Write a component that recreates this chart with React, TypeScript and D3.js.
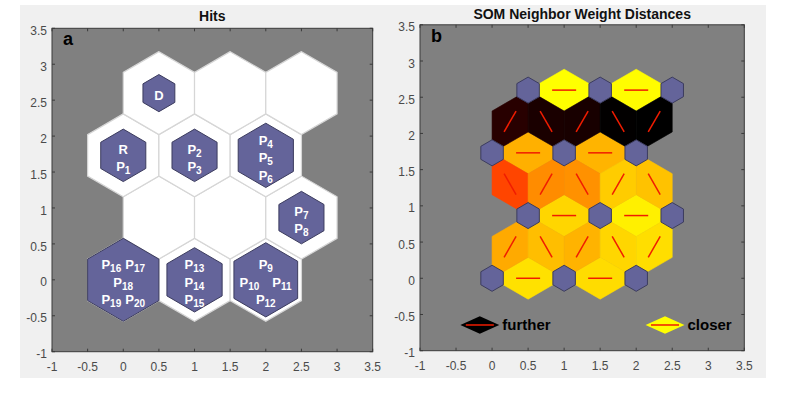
import React from "react";
import * as d3 from "d3";

const W = 808;
const H = 398;
const FONT = "'Liberation Sans', Arial, sans-serif";

const TICKS = [-1, -0.5, 0, 0.5, 1, 1.5, 2, 2.5, 3, 3.5];
const TICK_LABELS = ["-1", "-0.5", "0", "0.5", "1", "1.5", "2", "2.5", "3", "3.5"];

// SOM grid: 3 columns x 4 rows, hexagonal topology, neuron index = row*3+col
const GRID_COLS = 3;
const GRID_ROWS = 4;

// Hits per neuron
const HITS = [5, 3, 4, 0, 0, 2, 2, 2, 3, 1, 0, 0];
const MAX_HITS = 5;
// Labels inside the hit hexagons (lines of tokens)
const HIT_LABELS: string[][][] = [
  [["P16", "P17"], ["P18"], ["P19", "P20"]],
  [["P13"], ["P14"], ["P15"]],
  [["P9"], ["P10", "P11"], ["P12"]],
  [],
  [],
  [["P7"], ["P8"]],
  [["R"], ["P1"]],
  [["P2"], ["P3"]],
  [["P4"], ["P5"], ["P6"]],
  [["D"]],
  [],
  [],
];

// Neighbour pairs and their closeness (0 = further, 1 = closer)
const EDGES: [number, number][] = [
  [0, 1], [1, 2], [3, 4], [4, 5], [6, 7], [7, 8], [9, 10], [10, 11],
  [0, 3], [1, 3], [1, 4], [2, 4], [2, 5],
  [6, 3], [7, 3], [7, 4], [8, 4], [8, 5],
  [6, 9], [7, 9], [7, 10], [8, 10], [8, 11],
];
const CLOSENESS = [
  0.941, 0.931, 0.92, 0.97, 0.845, 0.853, 1.0, 0.995,
  0.833, 0.873, 0.85, 0.92, 0.935,
  0.635, 0.775, 0.785, 0.9, 0.88,
  0.078, 0.05, 0.047, 0.004, 0.0,
];

const LEGEND = [
  { label: "further", closeness: 0 },
  { label: "closer", closeness: 1 },
];

const TITLES = ["Hits", "SOM Neighbor Weight Distances"];
const PANEL_TAGS = ["a", "b"];

const colorScale = d3
  .scaleLinear<string>()
  .domain([0, 0.5, 1])
  .range(["#000000", "#ff0000", "#ffff00"]);

const SQ3 = Math.sqrt(3);
function neuronPos(i: number): [number, number] {
  const row = Math.floor(i / GRID_COLS);
  const col = i % GRID_COLS;
  return [col + (row % 2) * 0.5, (row * SQ3) / 2];
}
const NEURONS = d3.range(GRID_COLS * GRID_ROWS);

type Scales = { x: d3.ScaleLinear<number, number>; y: d3.ScaleLinear<number, number> };

const line = d3.line<[number, number]>().curve(d3.curveLinearClosed);

function hexPath(s: Scales, cx: number, cy: number, r: number) {
  const pts: [number, number][] = d3.range(6).map((k) => {
    const a = Math.PI / 2 + (k * Math.PI) / 3;
    return [s.x(cx + r * Math.cos(a)), s.y(cy + r * Math.sin(a))];
  });
  return line(pts) as string;
}

function Axes({ s, title, titleY, tag }: { s: Scales; title: string; titleY: number; tag: string }) {
  const [x0, x1] = s.x.range();
  const [y1, y0] = s.y.range();
  const tl = 3;
  return (
    <g>
      <text
        x={(x0 + x1) / 2}
        y={titleY}
        textAnchor="middle"
        fontFamily={FONT}
        fontWeight="bold"
        fontSize={14}
        fill="#111"
      >
        {title}
      </text>
      <rect x={x0} y={y0} width={x1 - x0} height={y1 - y0} fill="none" stroke="#3a3a3a" strokeWidth={1} />
      {TICKS.map((t, i) => (
        <g key={"x" + i}>
          <line x1={s.x(t)} x2={s.x(t)} y1={y1} y2={y1 - tl} stroke="#3a3a3a" />
          <line x1={s.x(t)} x2={s.x(t)} y1={y0} y2={y0 + tl} stroke="#3a3a3a" />
          <line x1={x0} x2={x0 + tl} y1={s.y(t)} y2={s.y(t)} stroke="#3a3a3a" />
          <line x1={x1} x2={x1 - tl} y1={s.y(t)} y2={s.y(t)} stroke="#3a3a3a" />
          <text
            x={s.x(t)}
            y={y1 + 19.5}
            textAnchor="middle"
            fontFamily={FONT}
            fontSize={12}
            fill="#4a4a4a"
          >
            {TICK_LABELS[i]}
          </text>
          <text
            x={x0 - 5}
            y={s.y(t) + 6.6}
            textAnchor="end"
            fontFamily={FONT}
            fontSize={12}
            fill="#4a4a4a"
          >
            {TICK_LABELS[i]}
          </text>
        </g>
      ))}
      <text
        x={s.x(-1) + 11}
        y={s.y(3.5) + 17}
        fontFamily={FONT}
        fontWeight="bold"
        fontSize={18}
        fill="#000"
      >
        {tag}
      </text>
    </g>
  );
}

function HitsPanel({ s }: { s: Scales }) {
  const [x0, x1] = s.x.range();
  const [y1, y0] = s.y.range();
  const R = 1 / SQ3;
  return (
    <g>
      <rect x={x0} y={y0} width={x1 - x0} height={y1 - y0} fill="#808080" />
      {NEURONS.map((i) => {
        const [cx, cy] = neuronPos(i);
        return <path key={"w" + i} d={hexPath(s, cx, cy, R)} fill="#ffffff" stroke="#d6d6d6" strokeWidth={1.2} />;
      })}
      {NEURONS.filter((i) => HITS[i] > 0).map((i) => {
        const [cx, cy] = neuronPos(i);
        const r = R * Math.sqrt(HITS[i] / MAX_HITS);
        return <path key={"p" + i} d={hexPath(s, cx, cy, r)} fill="#64649a" stroke="#3c3c5e" strokeWidth={1} />;
      })}
      {NEURONS.map((i) => {
        const [cx, cy] = neuronPos(i);
        const lines = HIT_LABELS[i];
        const n = lines.length;
        const sp = 17.5;
        return lines.map((ln, j) => {
          const yc = s.y(cy) + 2.5 + (j - (n - 1) / 2) * sp;
          const gap = ln.length > 1 && ln[0] === "P10" ? 13 : 4;
          const widths = ln.map((t) => (t.length > 1 ? 8.7 + (t.length - 1) * 5.56 : 9.4));
          const total = d3.sum(widths) + gap * (ln.length - 1);
          let xx = s.x(cx) - total / 2;
          return ln.map((tok, k) => {
            const xs = xx;
            xx += widths[k] + gap;
            const head = tok[0];
            const sub = tok.slice(1);
            return (
              <text
                key={`t${i}-${j}-${k}`}
                x={xs}
                y={yc + 4.6}
                fontFamily={FONT}
                fontWeight="bold"
                fontSize={13}
                fill="#ffffff"
              >
                {sub ? (
                  <>
                    <tspan>{head}</tspan>
                    <tspan fontSize={10} dy={3}>
                      {sub}
                    </tspan>
                  </>
                ) : (
                  head
                )}
              </text>
            );
          });
        });
      })}
    </g>
  );
}

function DistPanel({ s }: { s: Scales }) {
  const [x0, x1] = s.x.range();
  const [y1, y0] = s.y.range();
  const h = 0.5 / SQ3;
  return (
    <g>
      <rect x={x0} y={y0} width={x1 - x0} height={y1 - y0} fill="#808080" />
      {EDGES.map(([a, b], i) => {
        const pa = neuronPos(a);
        const pb = neuronPos(b);
        const mx = (pa[0] + pb[0]) / 2;
        const my = (pa[1] + pb[1]) / 2;
        const dx = pb[0] - pa[0];
        const dy = pb[1] - pa[1];
        const len = Math.hypot(dx, dy);
        const px = (-dy / len) * h;
        const py = (dx / len) * h;
        const pts: [number, number][] = [
          [s.x(pa[0]), s.y(pa[1])],
          [s.x(mx + px), s.y(my + py)],
          [s.x(pb[0]), s.y(pb[1])],
          [s.x(mx - px), s.y(my - py)],
        ];
        const c = colorScale(CLOSENESS[i]);
        return <path key={"e" + i} d={line(pts) as string} fill={c} stroke={c} strokeWidth={0.6} />;
      })}
      {EDGES.map(([a, b], i) => {
        const pa = neuronPos(a);
        const pb = neuronPos(b);
        const dx = pb[0] - pa[0];
        const dy = pb[1] - pa[1];
        return (
          <line
            key={"l" + i}
            x1={s.x(pa[0] + dx / 3)}
            y1={s.y(pa[1] + dy / 3)}
            x2={s.x(pa[0] + (2 * dx) / 3)}
            y2={s.y(pa[1] + (2 * dy) / 3)}
            stroke="#f01c00"
            strokeWidth={1.5}
          />
        );
      })}
      {NEURONS.map((i) => {
        const [cx, cy] = neuronPos(i);
        return <path key={"n" + i} d={hexPath(s, cx, cy, 0.18)} fill="#64649a" stroke="#3c3c5e" strokeWidth={1} />;
      })}
      {LEGEND.map((it, i) => {
        const cx = i === 0 ? -0.17 : 2.4;
        const cy = -0.645;
        const hw = 0.27;
        const hh = 0.12;
        const c = colorScale(it.closeness);
        const pts: [number, number][] = [
          [s.x(cx - hw), s.y(cy)],
          [s.x(cx), s.y(cy + hh)],
          [s.x(cx + hw), s.y(cy)],
          [s.x(cx), s.y(cy - hh)],
        ];
        return (
          <g key={"lg" + i}>
            <path d={line(pts) as string} fill={c} />
            <line
              x1={s.x(cx - hw * 0.72)}
              x2={s.x(cx + hw * 0.72)}
              y1={s.y(cy)}
              y2={s.y(cy)}
              stroke="#f01c00"
              strokeWidth={1.5}
            />
            <text
              x={s.x(cx + hw) + 3}
              y={s.y(cy) + 5}
              fontFamily={FONT}
              fontWeight="bold"
              fontSize={15}
              fill="#000"
            >
              {it.label}
            </text>
          </g>
        );
      })}
    </g>
  );
}

export default function App() {
  const left: Scales = {
    x: d3.scaleLinear().domain([-1, 3.5]).range([52, 372.7]),
    y: d3.scaleLinear().domain([-1, 3.5]).range([351.7, 28.3]),
  };
  const right: Scales = {
    x: d3.scaleLinear().domain([-1, 3.5]).range([420, 744.3]),
    y: d3.scaleLinear().domain([-1, 3.5]).range([350.7, 24.8]),
  };
  return (
    <svg
      width={W}
      height={H}
      style={{ position: "absolute", left: 0, top: 0, background: "#ffffff" }}
    >
      <rect x={20} y={5} width={746} height={373} fill="#f0f0f0" />
      <HitsPanel s={left} />
      <Axes s={left} title={TITLES[0]} titleY={20.5} tag={PANEL_TAGS[0]} />
      <DistPanel s={right} />
      <Axes s={right} title={TITLES[1]} titleY={18.5} tag={PANEL_TAGS[1]} />
    </svg>
  );
}
